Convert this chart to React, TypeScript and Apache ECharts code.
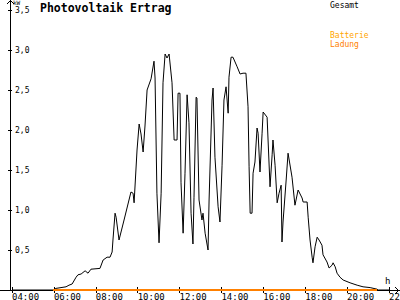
import React, { useEffect, useRef } from "react";
import * as echarts from "echarts";

// time of day in hours
const hours = [
  4.0, 5.96, 6.1, 6.34, 6.58, 6.72, 6.87, 7.06, 7.15, 7.3,
  7.49, 7.63, 7.77, 8.2, 8.35, 8.54, 8.68, 8.78, 8.82, 8.92,
  8.97, 9.11, 9.35, 9.68, 9.78, 9.83, 9.97, 10.07, 10.16, 10.26,
  10.35, 10.45, 10.64, 10.78, 10.83, 10.92, 11.02, 11.12, 11.21, 11.31,
  11.4, 11.5, 11.64, 11.74, 11.88, 11.93, 12.02, 12.07, 12.17, 12.26,
  12.36, 12.45, 12.55, 12.64, 12.69, 12.79, 12.83, 12.93, 13.07, 13.12,
  13.22, 13.36, 13.41, 13.55, 13.6, 13.69, 13.84, 13.93, 14.03, 14.12,
  14.22, 14.32, 14.36, 14.46, 14.55, 14.75, 14.89, 15.03, 15.17, 15.27,
  15.32, 15.37, 15.46, 15.51, 15.6, 15.7, 15.75, 15.84, 15.94, 15.99,
  16.18, 16.32, 16.42, 16.46, 16.56, 16.66, 16.75, 16.85, 16.89, 16.94,
  17.09, 17.18, 17.37, 17.51, 17.66, 17.85, 17.9, 18.09, 18.14, 18.23,
  18.33, 18.37, 18.47, 18.57, 18.66, 18.8, 18.85, 19.04, 19.14, 19.28,
  19.33, 19.43, 19.52, 19.66, 19.81, 20.14, 20.48, 20.76, 21.1, 21.43,
  21.48, 22.0,
];

// total output in kW
const gesamt = [
  0, 0, 0.02, 0.03, 0.04, 0.06, 0.075, 0.16, 0.19, 0.2,
  0.24, 0.21, 0.26, 0.27, 0.375, 0.41, 0.41, 0.475, 0.625, 0.96,
  0.91, 0.625, 0.875, 1.225, 1.21, 1.09, 1.75, 2.075, 1.95, 1.725,
  2.05, 2.5, 2.64, 2.86, 2.65, 1.21, 0.59, 1.21, 2.59, 2.95,
  2.9, 2.95, 2.59, 1.875, 1.875, 2.46, 2.46, 1.34, 0.71, 1.46,
  2.44, 2.09, 0.96, 0.575, 1.16, 2.41, 2.4, 1.125, 0.875, 0.96,
  0.71, 0.5, 1.125, 2.375, 2.525, 1.66, 1.04, 0.85, 1.56, 2.375,
  2.54, 2.21, 2.66, 2.91, 2.91, 2.79, 2.7, 2.71, 2.71, 2.29,
  1.54, 0.96, 0.96, 1.46, 1.6, 2.025, 1.96, 1.475, 1.96, 2.225,
  2.16, 1.29, 1.69, 1.875, 1.56, 1.09, 1.21, 1.31, 0.6, 0.85,
  1.375, 1.71, 1.41, 1.06, 1.25, 1.15, 1.1, 1.1, 0.91, 0.625,
  0.41, 0.34, 0.54, 0.66, 0.625, 0.56, 0.44, 0.35, 0.275, 0.31,
  0.34, 0.29, 0.21, 0.16, 0.125, 0.09, 0.06, 0.04, 0.03, 0.01,
  0, 0,
];

// battery charging in kW
const batteryHours = [5.96, 21.43];
const batteryLadung = [0, 0];

const xTickHours = [4, 6, 8, 10, 12, 14, 16, 18, 20, 22];
const yTickValues = [0.5, 1, 1.5, 2, 2.5, 3, 3.5];

const MONO = "DejaVu Sans Mono";

export default function App() {
  const ref = useRef<HTMLDivElement>(null);

  useEffect(() => {
    if (!ref.current) return;
    const chart = echarts.init(ref.current, null, { renderer: "svg" });

    const gesamtData = hours.map((h, i) => [h, gesamt[i]]);
    const batteryData = batteryHours.map((h, i) => [h, batteryLadung[i]]);
    const fmtHour = (v: number) => `${String(Math.round(v)).padStart(2, "0")}:00`;
    const fmtKw = (v: number) => v.toFixed(1).replace(".", ",");

    const xBase = {
      type: "value" as const,
      min: 3.9045,
      max: 22.525,
      position: "bottom" as const,
      offset: 0,
      splitLine: { show: false },
    };
    const yBase = {
      type: "value" as const,
      min: 0,
      max: 3.625,
      position: "left" as const,
      offset: 0,
      splitLine: { show: false },
    };

    chart.setOption({
      animation: false,
      backgroundColor: "#fff",
      grid: { left: 10, right: 0, top: 0, bottom: 10, containLabel: false, outerBoundsMode: "none" },
      xAxis: [
        {
          ...xBase,
          axisLine: { show: true, lineStyle: { color: "#000", width: 1 } },
          axisTick: {
            show: true,
            customValues: xTickHours,
            length: 3,
            lineStyle: { color: "#000", width: 1 },
          },
          axisLabel: {
            show: true,
            customValues: xTickHours,
            formatter: fmtHour,
            align: "left",
            alignMinLabel: "left",
            alignMaxLabel: "left",
            hideOverlap: false,
            margin: 2,
            color: "#000",
            fontFamily: MONO,
            fontSize: 9,
          },
        },
        {
          ...xBase,
          axisLine: { show: false },
          axisTick: {
            show: true,
            inside: true,
            customValues: xTickHours,
            length: 3,
            lineStyle: { color: "#000", width: 1 },
          },
          axisLabel: { show: false },
        },
      ],
      yAxis: [
        {
          ...yBase,
          axisLine: { show: true, lineStyle: { color: "#000", width: 1 } },
          axisTick: {
            show: true,
            customValues: yTickValues,
            length: 2,
            lineStyle: { color: "#000", width: 1 },
          },
          axisLabel: {
            show: true,
            inside: true,
            customValues: yTickValues,
            formatter: fmtKw,
            margin: 5,
            color: "#000",
            fontFamily: MONO,
            fontSize: 8,
          },
        },
        {
          ...yBase,
          axisLine: { show: false },
          axisTick: {
            show: true,
            inside: true,
            customValues: yTickValues,
            length: 2,
            lineStyle: { color: "#000", width: 1 },
          },
          axisLabel: { show: false },
        },
      ],
      series: [
        {
          name: "Gesamt",
          type: "line",
          data: gesamtData,
          xAxisIndex: 0,
          yAxisIndex: 0,
          showSymbol: false,
          lineStyle: { color: "#000", width: 1 },
          z: 2,
        },
        {
          name: "Batterie Ladung",
          type: "line",
          data: batteryData,
          xAxisIndex: 0,
          yAxisIndex: 0,
          showSymbol: false,
          lineStyle: { color: "#FF8000", width: 2 },
          z: 3,
        },
      ],
      graphic: [
        { type: "line", shape: { x1: 0, y1: 290.5, x2: 10, y2: 290.5 }, style: { stroke: "#000", lineWidth: 1 } },
        { type: "polyline", shape: { points: [[7, 4], [10.5, 0.5], [14, 4]] }, style: { stroke: "#000", lineWidth: 1, fill: null } },
        { type: "polyline", shape: { points: [[395, 287], [398.5, 290.5], [395, 294]] }, style: { stroke: "#000", lineWidth: 1, fill: null } },
        { type: "text", x: 40, y: 2, style: { text: "Photovoltaik Ertrag", font: `bold 11.5px "${MONO}"`, fill: "#000", textVerticalAlign: "top" } },
        { type: "text", x: 13, y: -1, style: { text: "kW", font: `6px "${MONO}"`, fill: "#000", textVerticalAlign: "top" } },
        { type: "text", x: 385, y: 276, style: { text: "h", font: `9px "${MONO}"`, fill: "#000", textVerticalAlign: "top" } },
        { type: "text", x: 330, y: 1, style: { text: "Gesamt", font: `8px "${MONO}"`, fill: "#000", textVerticalAlign: "top" } },
        { type: "text", x: 330, y: 31, style: { text: "Batterie", font: `8px "${MONO}"`, fill: "#FFA500", textVerticalAlign: "top" } },
        { type: "text", x: 330, y: 40, style: { text: "Ladung", font: `8px "${MONO}"`, fill: "#FF8000", textVerticalAlign: "top" } },
      ],
    });

    return () => chart.dispose();
  }, []);

  return (
    <div
      ref={ref}
      style={{ position: "fixed", left: 0, top: 0, width: 400, height: 300, background: "#fff" }}
    />
  );
}
